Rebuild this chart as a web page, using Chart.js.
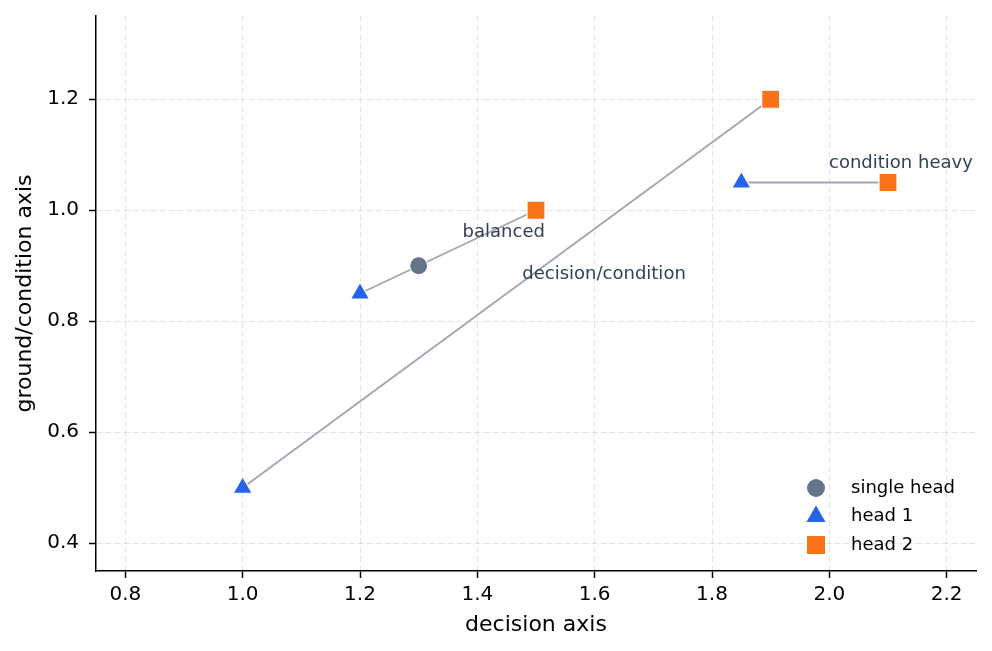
<!DOCTYPE html>
<html><head><meta charset="utf-8">
<script src="https://cdn.jsdelivr.net/npm/chart.js@4.4.1/dist/chart.umd.min.js"></script>
<style>html,body{margin:0;padding:0;background:#fff}#wrap{width:992px;height:651px}</style>
</head><body><div id="wrap"><canvas id="c" width="992" height="651"></canvas></div>
<script>
// ---- data ----
const seriesNames = ['single head', 'head 1', 'head 2'];
const singleHeadX = [1.3];
const singleHeadY = [0.9];
const head1X = [1.2, 1.0, 1.85];
const head1Y = [0.85, 0.5, 1.05];
const head2X = [1.5, 1.9, 2.1];
const head2Y = [1.0, 1.2, 1.05];
const linkNames = ['balanced', 'decision/condition', 'condition heavy'];
const link1X = [1.2, 1.3, 1.5], link1Y = [0.85, 0.9, 1.0];
const link2X = [1.0, 1.9],      link2Y = [0.5, 1.2];
const link3X = [1.85, 2.1],     link3Y = [1.05, 1.05];
const labelX = [1.445, 1.616, 2.122];
const labelY = [0.961, 0.885, 1.085];
const xTicks = [0.8, 1.0, 1.2, 1.4, 1.6, 1.8, 2.0, 2.2];
const yTicks = [0.4, 0.6, 0.8, 1.0, 1.2];

const pts = (xs, ys) => xs.map((x, i) => ({x: x, y: ys[i]}));
const FONT = "'DejaVu Sans', sans-serif";
const COLORS = ['#64748b', '#2563eb', '#f97316'];
const STYLES = ['circle', 'triangle', 'rect'];
const RADII = [9, 11, 12.7];
const LINE_COLOR = '#a3a6b1';
const TEXT_COLOR = '#334155';

function lineDs(xs, ys) {
  return {type: 'scatter', data: pts(xs, ys), showLine: true, borderColor: LINE_COLOR,
    borderWidth: 1.9, pointRadius: 0, fill: false, order: 2};
}
function ptDs(i, xs, ys) {
  return {type: 'scatter', label: seriesNames[i], data: pts(xs, ys), showLine: false,
    pointStyle: STYLES[i], pointRadius: RADII[i], backgroundColor: COLORS[i],
    borderColor: '#ffffff', borderWidth: 1.2, order: 1};
}

const annotPlugin = {
  id: 'annot',
  afterDatasetsDraw(chart) {
    const ctx = chart.ctx, xs = chart.scales.x, ys = chart.scales.y;
    ctx.save();
    ctx.font = '18px ' + FONT;
    ctx.fillStyle = TEXT_COLOR;
    ctx.textAlign = 'center';
    ctx.textBaseline = 'middle';
    linkNames.forEach((t, i) => {
      ctx.fillText(t, xs.getPixelForValue(labelX[i]), ys.getPixelForValue(labelY[i]));
    });
    ctx.restore();
  }
};

const legendPlugin = {
  id: 'customLegend',
  afterDraw(chart) {
    const ctx = chart.ctx, a = chart.chartArea;
    const mx = a.right - 160, tx = a.right - 125;
    const y0 = a.bottom - 83, dy = 28.5;
    ctx.save();
    seriesNames.forEach((n, i) => {
      const y = y0 + i * dy;
      const opts = {pointStyle: STYLES[i], radius: RADII[i], rotation: 0, borderWidth: 0};
      ctx.fillStyle = COLORS[i];
      ctx.strokeStyle = '#ffffff';
      ctx.lineWidth = 1.2;
      Chart.helpers.drawPoint(ctx, opts, mx, y);
      ctx.fillStyle = '#000000';
      ctx.font = '18px ' + FONT;
      ctx.textAlign = 'left';
      ctx.textBaseline = 'middle';
      ctx.fillText(n, tx, y);
    });
    ctx.restore();
  }
};

const gridCommon = {color: 'rgba(0,0,0,0.1)', lineWidth: 1, tickColor: '#000', tickWidth: 1.5, tickLength: 7};

new Chart(document.getElementById('c'), {
  type: 'scatter',
  data: {datasets: [
    lineDs(link1X, link1Y), lineDs(link2X, link2Y), lineDs(link3X, link3Y),
    ptDs(0, singleHeadX, singleHeadY), ptDs(1, head1X, head1Y), ptDs(2, head2X, head2Y)
  ]},
  options: {
    responsive: false, animation: false, devicePixelRatio: 1, events: [],
    layout: {padding: {top: 16, right: 16, left: 0, bottom: 0}},
    plugins: {legend: {display: false}, tooltip: {enabled: false}},
    scales: {
      x: {
        type: 'linear', min: 0.75, max: 2.25,
        afterBuildTicks: s => { s.ticks = xTicks.map(v => ({value: v})); },
        afterFit: s => { s.height = 80; s.paddingLeft = 0; s.paddingRight = 0; },
        grid: gridCommon,
        border: {display: true, color: '#000', width: 1.5, dash: [6, 3]},
        ticks: {color: '#000', font: {family: FONT, size: 20}, padding: 5, maxRotation: 0,
          callback: v => Number(v).toFixed(1)},
        title: {display: true, text: 'decision axis', color: '#000',
          font: {family: FONT, size: 22}, padding: {top: 0, bottom: 13}}
      },
      y: {
        type: 'linear', min: 0.35, max: 1.35,
        afterBuildTicks: s => { s.ticks = yTicks.map(v => ({value: v})); },
        afterFit: s => { s.width = 96; s.paddingTop = 0; s.paddingBottom = 0; },
        grid: gridCommon,
        border: {display: true, color: '#000', width: 1.5, dash: [6, 3]},
        ticks: {color: '#000', font: {family: FONT, size: 20}, padding: 10,
          callback: v => Number(v).toFixed(1)},
        title: {display: true, text: 'ground/condition axis', color: '#000',
          font: {family: FONT, size: 22}, padding: {top: 12, bottom: 0}}
      }
    }
  },
  plugins: [annotPlugin, legendPlugin]
});
</script>
</body></html>
